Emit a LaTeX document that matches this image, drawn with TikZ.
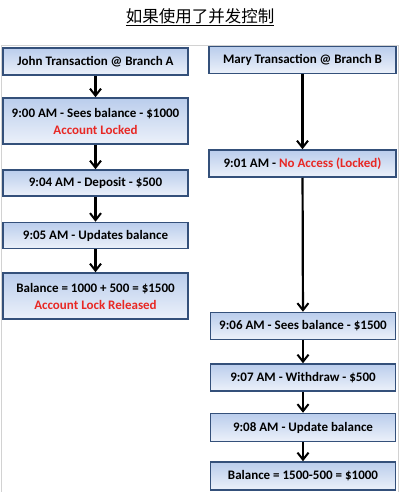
\documentclass[tikz,border=0pt]{standalone}
\usepackage{fontspec}
\setmainfont{Carlito}
\newfontfamily\cjk{Noto Sans CJK SC}
\usepackage{tikz}
\usetikzlibrary{arrows.meta, positioning}
\definecolor{boxline}{RGB}{52,80,122}
\definecolor{boxtop}{RGB}{186,205,236}
\definecolor{boxbot}{RGB}{236,241,250}
\definecolor{lockred}{RGB}{232,40,36}

\begin{document}
\begin{tikzpicture}[x=1pt, y=-1pt,
		step box/.style={rectangle, draw=boxline, line width=1.5pt, top color=boxtop, bottom color=boxbot,
			minimum width=185pt, inner sep=1pt, align=center, font=\bfseries\fontsize{13}{17}\selectfont},
		flow/.style={-{Straight Barb[length=7pt, width=11pt, line width=2pt]}, line width=2.2pt},
		locked/.style={text=lockred}
		]
	\useasboundingbox (0,0) rectangle (400,492);
	\draw[gray!35, line width=0.8pt] (1.5,45) rectangle (398,492);

	% --- titre ---
	\node (title) at (200,17) {\cjk\fontsize{16.5}{18}\selectfont\underline{如果使用了并发控制}};

	% --- John (à gauche) ---
	\node[step box, minimum height=27pt] (jhead) at (95.5,61.5) {John Transaction @ Branch A};
	\node[step box, minimum height=46pt] (j1) at (95.5,121) {9:00 AM - Sees balance - \$1000\\ \textcolor{lockred}{Account Locked}};
	\node[step box, minimum height=26pt] (j2) at (95.5,183) {9:04 AM - Deposit - \$500};
	\node[step box, minimum height=26pt] (j3) at (95.5,235.5) {9:05 AM - Updates balance};
	\node[step box, minimum height=46pt] (j4) at (95.5,296) {Balance = 1000 + 500 = \$1500\\ \textcolor{lockred}{Account Lock Released}};

	\draw[flow] (jhead) -- (j1);
	\draw[flow] (j1) -- (j2);
	\draw[flow] (j2) -- (j3);
	\draw[flow] (j3) -- (j4);

	% --- Mary (à droite) ---
	\node[step box, minimum height=27pt, minimum width=187pt] (mhead) at (302.5,60) {Mary Transaction @ Branch B};
	\node[step box, minimum height=27pt, minimum width=187pt] (m1) at (302.5,163.5) {9:01 AM - \textcolor{lockred}{No Access (Locked)}};
	\node[step box, minimum height=27pt] (m2) at (303,326) {9:06 AM - Sees balance - \$1500};
	\node[step box, minimum height=27pt] (m3) at (303,377.5) {9:07 AM - Withdraw - \$500};
	\node[step box, minimum height=28pt] (m4) at (303,427.5) {9:08 AM - Update balance};
	\node[step box, minimum height=28pt] (m5) at (303,476) {Balance = 1500-500 = \$1000};

	\draw[flow] (mhead) -- (m1);
	\draw[flow] (m1) -- (m2);
	\draw[flow] (m2) -- (m3);
	\draw[flow] (m3) -- (m4);
	\draw[flow] (m4) -- (m5);

\end{tikzpicture}
\end{document}
